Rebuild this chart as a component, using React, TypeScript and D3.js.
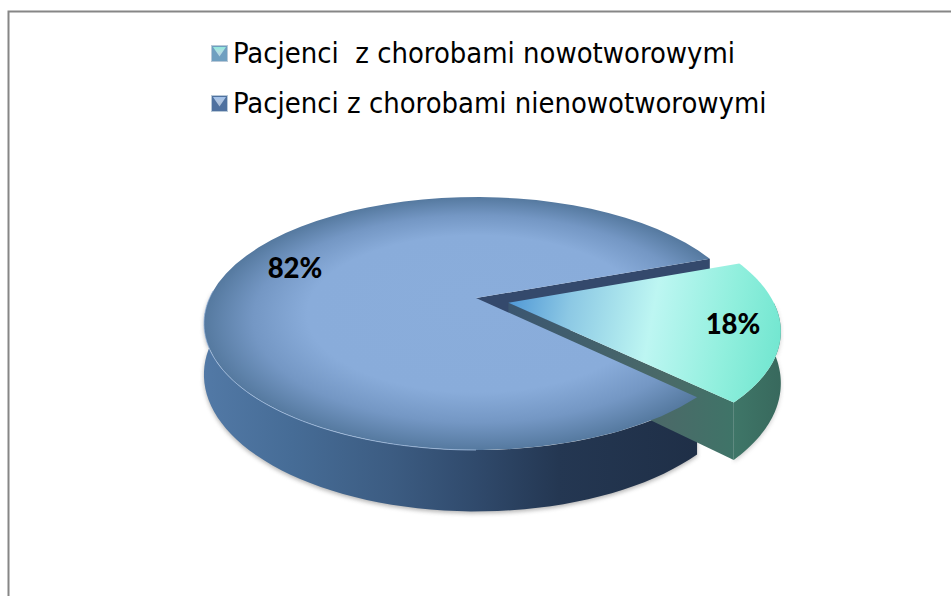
import React from 'react';
import * as d3 from 'd3';

const width = 951;
const height = 596;

const categories = ['Pacjenci  z chorobami nowotworowymi', 'Pacjenci z chorobami nienowotworowymi'];
const values = [18, 82];
const labels = ['18%', '82%'];

// projection of the pie disc
const apex = { x: 476, y: 298 };
const radiusX = 266.5;
const radiusY = 121.4;
const perspective = 0.2016;
const depth = 49;
const firstAngle = (69.8 * Math.PI) / 180;
const explode = { dist: 0.127, angle: (108 * Math.PI) / 180, scale: 0.988 };

const project = (u: number, v: number, drop = 0) => {
  const w = 1 + perspective * v;
  return [apex.x + (radiusX * u) / w, apex.y - (radiusY * v) / w + drop / w] as [number, number];
};

const line = d3.line();
const arcSteps = (a0: number, a1: number) => d3.range(0, 61).map(i => a0 + ((a1 - a0) * i) / 60);
const rimPoint = (a: number, off = [0, 0], drop = 0, scale = 1) =>
  project(off[0] + scale * Math.sin(a), off[1] + scale * Math.cos(a), drop);

const pie = d3.pie<number>().sort(null).startAngle(firstAngle).endAngle(firstAngle + 2 * Math.PI);
const [tealArc, blueArc] = pie(values);

const topFace = (a0: number, a1: number, off = [0, 0], scale = 1) =>
  line([project(off[0], off[1]), ...arcSteps(a0, a1).map(a => rimPoint(a, off, 0, scale))]) + 'Z';

// outer wall between two angles, only the part facing the viewer
const outerWall = (a0: number, a1: number, off = [0, 0], scale = 1) => {
  const steps = arcSteps(a0, a1);
  return line([
    ...steps.map(a => rimPoint(a, off, 0, scale)),
    ...steps.slice().reverse().map(a => rimPoint(a, off, depth, scale)),
  ]) + 'Z';
};

const cutWall = (a: number, off = [0, 0], scale = 1) =>
  line([
    project(off[0], off[1]),
    rimPoint(a, off, 0, scale),
    rimPoint(a, off, depth, scale),
    project(off[0], off[1], depth),
  ]) + 'Z';

const tealOff = [explode.dist * Math.sin(explode.angle), explode.dist * Math.cos(explode.angle)];
const halfPi = Math.PI / 2;
const blueFrontEnd = 1.5 * Math.PI + 0.06;

const ellipseTop = project(0, 1)[1];
const ellipseBottom = project(0, -1)[1];
const ellipseCy = (ellipseTop + ellipseBottom) / 2;
const ellipseRy = (ellipseBottom - ellipseTop) / 2;
const ellipseRx = radiusX / Math.sqrt(1 - perspective * perspective);

const tealApex = project(tealOff[0], tealOff[1]);
const tealRight = tealApex[0] + ellipseRx;

const blueWallStops = [
  [0, '#5279a6'], [0.18, '#466c96'], [0.38, '#3c5c82'], [0.55, '#304a6c'], [0.72, '#243752'], [1, '#1f2f47'],
];

const Marker = ({ y, top, edge, id }: { y: number; top: string; edge: string; id: string }) => {
  const x = 211;
  const s = 17;
  return (
    <g>
      <defs>
        <linearGradient id={id} x1="0" y1="0" x2="0" y2="1">
          <stop offset="0" stopColor={top} />
          <stop offset="1" stopColor="#fff" stopOpacity={0.5} />
        </linearGradient>
      </defs>
      <rect x={x + 0.5} y={y + 0.5} width={s - 1} height={s - 1} fill={edge} stroke="#b9c9d8" />
      <path d={`M${x + 2},${y + 2}H${x + s - 2}L${x + s / 2},${y + s * 0.68}Z`} fill={`url(#${id})`} />
    </g>
  );
};

export default function App() {
  const tealTop = topFace(tealArc.startAngle, tealArc.endAngle, tealOff, explode.scale);
  const blueTop = topFace(blueArc.startAngle, blueArc.endAngle);
  const blueWall = outerWall(blueArc.startAngle, blueFrontEnd);
  const tealWall = outerWall(halfPi, tealArc.endAngle, tealOff, explode.scale);
  const highlight = line(arcSteps(Math.PI, blueFrontEnd).map(a => rimPoint(a))) as string;
  return (
    <svg width={width} height={height} style={{ position: 'absolute', left: 0, top: 0 }}>
      <defs>
        <radialGradient id="blueTop" gradientUnits="userSpaceOnUse" cx="0" cy="0" r="1" fx="0" fy="-0.2"
          gradientTransform={`translate(${apex.x},${ellipseCy}) scale(${ellipseRx},${ellipseRy})`}>
          <stop offset="0" stopColor="#8aaddb" />
          <stop offset="0.62" stopColor="#89acda" />
          <stop offset="0.82" stopColor="#7497c4" />
          <stop offset="1" stopColor="#55799f" />
        </radialGradient>
        <linearGradient id="tealTop" gradientUnits="userSpaceOnUse" x1={tealApex[0]} y1={tealApex[1]} x2={tealRight} y2={tealApex[1] + 50}>
          <stop offset="0" stopColor="#5098d6" />
          <stop offset="0.22" stopColor="#8cc8e4" />
          <stop offset="0.52" stopColor="#bdf6f2" />
          <stop offset="0.8" stopColor="#90efdd" />
          <stop offset="1" stopColor="#72e6d0" />
        </linearGradient>
        <linearGradient id="blueWall" x1="0" y1="0" x2="1" y2="0">
          {blueWallStops.map(([o, c]) => <stop key={o} offset={o} stopColor={c as string} />)}
        </linearGradient>
        <linearGradient id="tealWall" x1="0" y1="0" x2="1" y2="0">
          <stop offset="0" stopColor="#3f7668" />
          <stop offset="1" stopColor="#38695d" />
        </linearGradient>
        <linearGradient id="tealCut" x1="0" y1="0" x2="1" y2="0">
          <stop offset="0" stopColor="#3b5670" />
          <stop offset="0.7" stopColor="#4a6a68" />
          <stop offset="1" stopColor="#3f7468" />
        </linearGradient>
        <filter id="soft" x="-5%" y="-5%" width="110%" height="110%">
          <feGaussianBlur stdDeviation="2" />
        </filter>
      </defs>

      <rect x={8.5} y={11.5} width={width} height={height} fill="#fff" stroke="#868686" strokeWidth={2} />

      {categories.map((c, i) => (
        <g key={c}>
          <Marker y={45 + i * 50} top={i === 0 ? '#8fe8dc' : '#9fc0ea'} edge={i === 0 ? '#6f9fc0' : '#4f719f'} id={`marker${i}`} />
          <text x={233} y={63 + i * 50} xmlSpace="preserve" style={{ whiteSpace: 'pre' }}
            fontFamily="'DejaVu Sans Condensed','DejaVu Sans'" fontSize={28.9} fill="#000">{c}</text>
        </g>
      ))}

      <path d={blueWall} fill="#777" opacity={0.55} filter="url(#soft)" transform="translate(0,2)" />
      <path d={tealWall} fill="#777" opacity={0.35} filter="url(#soft)" transform="translate(0,2)" />

      <path d={cutWall(blueArc.endAngle)} fill="#34496c" />
      <path d={blueWall} fill="url(#blueWall)" />
      <path d={tealWall} fill="url(#tealWall)" />
      <path d={cutWall(tealArc.endAngle, tealOff, explode.scale)} fill="url(#tealCut)" />
      <path d={tealTop} fill="url(#tealTop)" />
      <path d={blueTop} fill="url(#blueTop)" />
      <path d={highlight} fill="none" stroke="#a5c0e4" strokeOpacity={0.7} strokeWidth={1} />

      <text x={733} y={334} fontFamily="Lato" fontWeight={900} fontSize={27.5} textAnchor="middle">{labels[0]}</text>
      <text x={295} y={278} fontFamily="Lato" fontWeight={900} fontSize={27.5} textAnchor="middle">{labels[1]}</text>
    </svg>
  );
}
